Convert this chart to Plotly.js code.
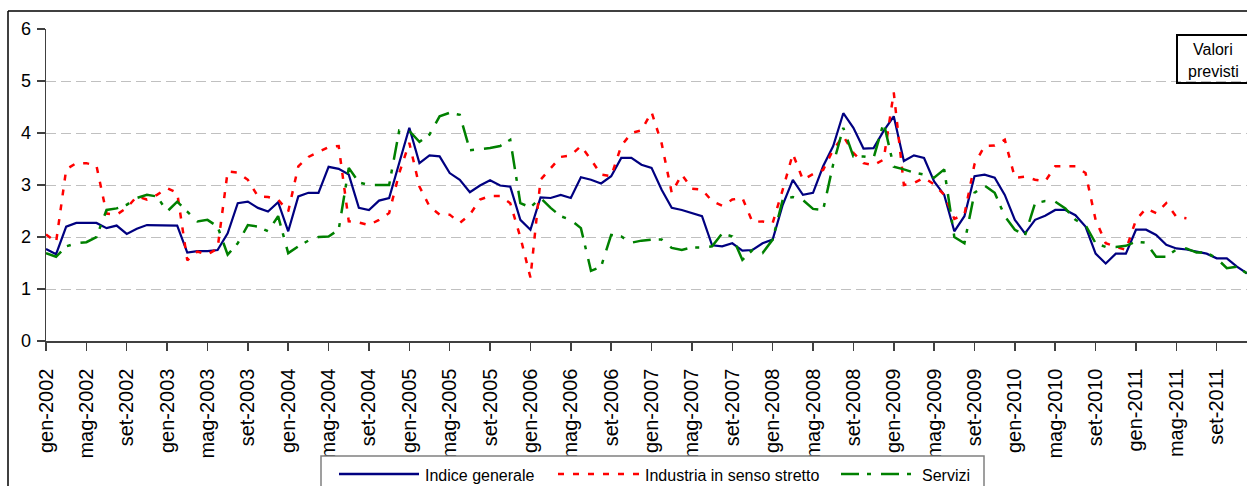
<!DOCTYPE html>
<html>
<head>
<meta charset="utf-8">
<script src="https://cdn.plot.ly/plotly-3.0.1.min.js"></script>
<style>
html,body{margin:0;padding:0;background:#fff;}
#chart{width:1247px;height:486px;}
</style>
</head>
<body>
<div id="chart"></div>
<script>
// ---- data ----
const monthNames = ['gen','feb','mar','apr','mag','giu','lug','ago','set','ott','nov','dic'];
const years = [2002,2003,2004,2005,2006,2007,2008,2009,2010,2011];
const categories = [];
years.forEach(y => monthNames.forEach(m => categories.push(m + '-' + y)));

const seriesNames = ['Indice generale', 'Industria in senso stretto', 'Servizi'];

const indiceGenerale = [
 1.77,1.67,2.20,2.27,2.27,2.27,2.17,2.22,2.06,2.16,2.23,2.23,
 2.23,2.22,1.70,1.73,1.73,1.75,2.07,2.65,2.68,2.56,2.49,2.67,
 2.11,2.78,2.85,2.85,3.35,3.31,3.20,2.56,2.52,2.70,2.75,3.42,
 4.10,3.42,3.57,3.55,3.23,3.10,2.86,2.99,3.09,2.99,2.97,2.33,
 2.14,2.76,2.75,2.81,2.75,3.15,3.10,3.03,3.17,3.52,3.52,3.39,
 3.33,2.91,2.56,2.52,2.46,2.40,1.84,1.82,1.88,1.74,1.75,1.88,
 1.95,2.62,3.10,2.81,2.85,3.36,3.75,4.38,4.10,3.70,3.71,4.04,
 4.32,3.46,3.57,3.52,3.07,2.81,2.11,2.40,3.17,3.20,3.14,2.81,
 2.33,2.07,2.33,2.41,2.52,2.52,2.42,2.20,1.68,1.49,1.68,1.68,
 2.14,2.14,2.04,1.85,1.78,1.76,1.72,1.68,1.59,1.59,1.43,1.30
];

const industria = [
 2.05,1.90,3.30,3.42,3.42,3.37,2.45,2.43,2.56,2.78,2.72,2.81,
 2.94,2.85,1.55,1.72,1.66,1.78,3.26,3.24,3.10,2.78,2.77,2.72,
 2.49,3.36,3.54,3.63,3.73,3.75,2.30,2.28,2.23,2.33,2.46,3.23,
 3.81,2.97,2.59,2.43,2.43,2.27,2.43,2.72,2.79,2.79,2.65,2.00,
 1.22,3.10,3.33,3.54,3.57,3.75,3.49,3.20,3.17,3.75,4.00,4.05,
 4.40,3.80,2.85,3.20,2.93,2.91,2.69,2.60,2.72,2.75,2.29,2.30,
 2.27,2.91,3.60,3.10,3.21,3.29,3.68,3.94,3.62,3.42,3.38,3.49,
 4.78,3.00,3.04,3.14,3.01,2.81,2.35,2.43,3.40,3.75,3.76,3.87,
 3.14,3.16,3.10,3.07,3.36,3.36,3.36,3.23,2.33,1.88,1.81,1.75,
 2.33,2.55,2.46,2.65,2.39,2.36,null,null,null,null,null,null
];

const servizi = [
 1.69,1.62,1.82,1.88,1.90,2.00,2.52,2.55,2.62,2.75,2.81,2.78,
 2.49,2.68,2.49,2.30,2.33,2.20,1.66,1.88,2.23,2.20,2.11,2.40,
 1.69,1.82,1.93,2.00,2.01,2.14,3.33,3.05,3.00,3.00,3.00,4.05,
 4.04,3.83,3.97,4.32,4.39,4.35,3.67,3.69,3.71,3.75,3.87,2.65,
 2.57,2.75,2.56,2.40,2.33,2.17,1.35,1.43,2.04,2.01,1.89,1.93,
 1.95,1.95,1.79,1.75,1.80,1.80,1.82,2.07,2.01,1.56,1.75,1.69,
 1.95,2.72,2.77,2.71,2.54,2.52,3.40,4.10,3.55,3.55,3.52,4.20,
 3.35,3.30,3.24,3.20,3.14,3.30,2.00,1.88,2.85,2.99,2.85,2.40,
 2.14,2.03,2.65,2.69,2.68,2.55,2.33,2.23,1.88,1.81,1.81,1.83,
 1.91,1.89,1.62,1.62,1.76,1.78,1.70,1.70,1.59,1.40,1.43,1.30
];

const yTicks = [0,1,2,3,4,5,6];
const tickLabels = categories.filter((c, i) => i % 4 === 0);
const boxText = ['Valori', 'previsti'];

// ---- layout geometry ----
const W = 1247, H = 486;
const M = {l: 46, r: 0, t: 29, b: 145};
const pw = W - M.l - M.r, ph = H - M.t - M.b;
const px = x => (x - M.l) / pw;
const py = y => (H - M.b - y) / ph;

const FONT = '"Liberation Sans", Arial, sans-serif';
const colors = ['#000080', '#ff0000', '#008000'];
const dashes = ['solid', '6px,9px', '18px,8px,4px,10px'];
const widths = [2.2, 2.5, 2.5];
const values = [indiceGenerale, industria, servizi];

const traces = values.map((v, i) => ({
  type: 'scatter', mode: 'lines', x: categories, y: v, name: seriesNames[i],
  line: {color: colors[i], width: widths[i], dash: dashes[i]},
  connectgaps: false, showlegend: false, hoverinfo: 'x+y+name'
}));

const shapes = [
  // outer frame
  {type:'line', xref:'paper', yref:'paper', x0:px(8), x1:px(1252), y0:py(11), y1:py(11), line:{color:'#000', width:1.5}},
  {type:'line', xref:'paper', yref:'paper', x0:px(8), x1:px(8), y0:py(11), y1:py(495), line:{color:'#000', width:1.5}},
  // "Valori previsti" box
  {type:'rect', xref:'paper', yref:'paper', x0:px(1177), x1:px(1260), y0:py(35), y1:py(83), line:{color:'#000', width:2}, fillcolor:'rgba(255,255,255,0)'},
  // legend box
  {type:'rect', xref:'paper', yref:'paper', x0:px(321), x1:px(984), y0:py(456), y1:py(495), line:{color:'#808080', width:1.5}, fillcolor:'#fff'}
];
const legendItems = [
  {x0:339, x1:419, tx:423},
  {x0:558, x1:640, tx:643},
  {x0:841, x1:916, tx:920}
];
const annotations = [];
legendItems.forEach((it, i) => {
  shapes.push({type:'line', xref:'paper', yref:'paper', x0:px(it.x0), x1:px(it.x1), y0:py(474), y1:py(474),
    line:{color:colors[i], width:2.5, dash:dashes[i]}});
  annotations.push({xref:'paper', yref:'paper', x:px(it.tx), y:py(475), xanchor:'left', yanchor:'middle',
    text:seriesNames[i], showarrow:false,
    font:{family:FONT, size:16, color:'#000'}});
});
boxText.forEach((t, i) => {
  annotations.push({xref:'paper', yref:'paper', x:px(1213), y:py(50 + i*22), xanchor:'center', yanchor:'middle',
    text:t, showarrow:false, font:{family:FONT, size:16, color:'#000'}});
});

const layout = {
  width: W, height: H,
  margin: M,
  paper_bgcolor: '#fff', plot_bgcolor: '#fff',
  showlegend: false,
  font: {family: FONT, color: '#000'},
  xaxis: {
    type: 'category', range: [0, categories.length - 1],
    tickmode: 'array', tickvals: tickLabels, ticktext: tickLabels,
    tickangle: -90, ticks: 'outside', ticklen: 8, tickwidth: 1.5, tickcolor: '#404040',
    showline: true, linecolor: '#404040', linewidth: 1.5,
    showgrid: false, zeroline: false,
    tickfont: {family: FONT, size: 20, color: '#000'}, ticklabelstandoff: 10
  },
  yaxis: {
    range: [0, 6], tickvals: yTicks, ticktext: yTicks.map(String),
    ticks: 'outside', ticklen: 8, tickwidth: 1.5, tickcolor: '#404040',
    showline: true, linecolor: '#404040', linewidth: 1.5,
    showgrid: true, gridcolor: '#c0c0c0', gridwidth: 1, griddash: '10px,5px',
    zeroline: false, tickfont: {family: FONT, size: 18, color: '#000'}, ticklabelstandoff: 2
  },
  shapes: shapes,
  annotations: annotations
};

Plotly.newPlot('chart', traces, layout, {displayModeBar: false, staticPlot: true});
</script>
</body>
</html>
